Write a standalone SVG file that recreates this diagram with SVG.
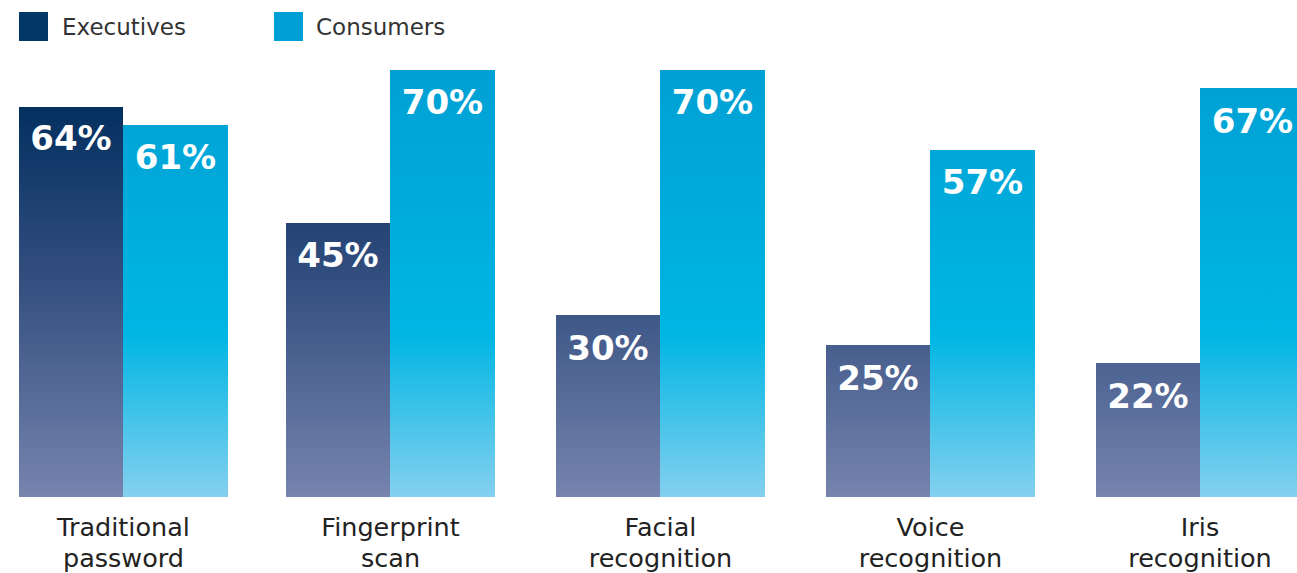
<svg xmlns="http://www.w3.org/2000/svg" width="1297" height="573" viewBox="0 0 1297 573">
<style>
.leg{font-family:"DejaVu Sans","Liberation Sans",sans-serif;font-size:23px;fill:#333}
.val{font-family:"DejaVu Sans","Liberation Sans",sans-serif;font-size:34px;font-weight:bold;fill:#fff;text-anchor:middle}
.cat{font-family:"DejaVu Sans","Liberation Sans",sans-serif;font-size:25.5px;fill:#222;text-anchor:middle}
.ex{fill:url(#gEx)}
.co{fill:url(#gCo)}
</style>
<defs>
<linearGradient id="gEx" gradientUnits="userSpaceOnUse" x1="0" y1="107" x2="0" y2="497">
<stop offset="0" stop-color="#03305f"/>
<stop offset="0.45" stop-color="#344f80"/>
<stop offset="1" stop-color="#7684ae"/>
</linearGradient>
<linearGradient id="gCo" gradientUnits="userSpaceOnUse" x1="0" y1="70" x2="0" y2="497">
<stop offset="0" stop-color="#00a0d4"/>
<stop offset="0.62" stop-color="#00b6e3"/>
<stop offset="1" stop-color="#84d0ef"/>
</linearGradient>
</defs>
<g id="legend">
<rect x="19" y="12" width="29" height="29" fill="#023768"/>
<text class="leg" x="62" y="35">Executives</text>
<rect x="274" y="12" width="29" height="29" fill="#00a0d6"/>
<text class="leg" x="316" y="35">Consumers</text>
</g>
<g id="traditional-password">
<rect class="ex" x="19" y="107" width="104" height="390"/>
<rect class="co" x="123" y="125" width="105" height="372"/>
<text class="val" x="71" y="150">64%</text>
<text class="val" x="175.5" y="169">61%</text>
<text class="cat" x="123.5" y="536">Traditional</text>
<text class="cat" x="123.5" y="567">password</text>
</g>
<g id="fingerprint-scan">
<rect class="ex" x="286" y="223" width="104" height="274"/>
<rect class="co" x="390" y="70" width="105" height="427"/>
<text class="val" x="338" y="267">45%</text>
<text class="val" x="442.5" y="114">70%</text>
<text class="cat" x="390.5" y="536">Fingerprint</text>
<text class="cat" x="390.5" y="567">scan</text>
</g>
<g id="facial-recognition">
<rect class="ex" x="556" y="315" width="104" height="182"/>
<rect class="co" x="660" y="70" width="105" height="427"/>
<text class="val" x="608" y="360">30%</text>
<text class="val" x="712.5" y="114">70%</text>
<text class="cat" x="660.5" y="536">Facial</text>
<text class="cat" x="660.5" y="567">recognition</text>
</g>
<g id="voice-recognition">
<rect class="ex" x="826" y="345" width="104" height="152"/>
<rect class="co" x="930" y="150" width="105" height="347"/>
<text class="val" x="878" y="390">25%</text>
<text class="val" x="982.5" y="194">57%</text>
<text class="cat" x="930.5" y="536">Voice</text>
<text class="cat" x="930.5" y="567">recognition</text>
</g>
<g id="iris-recognition">
<rect class="ex" x="1096" y="363" width="104" height="134"/>
<rect class="co" x="1200" y="88" width="105" height="409"/>
<text class="val" x="1148" y="408">22%</text>
<text class="val" x="1252.5" y="133">67%</text>
<text class="cat" x="1200" y="536">Iris</text>
<text class="cat" x="1200" y="567">recognition</text>
</g>
<g id="connectors"></g>
</svg>
